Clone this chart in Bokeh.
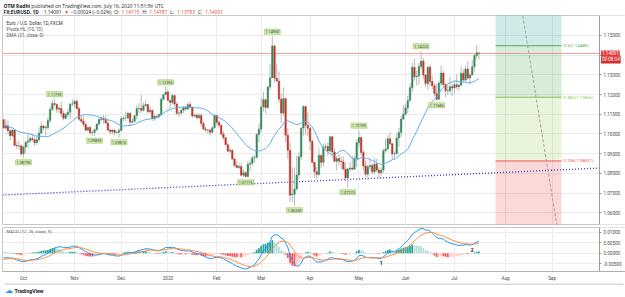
import numpy as np
import pandas as pd
from bokeh.plotting import figure
from bokeh.layouts import column
from bokeh.models import (ColumnDataSource, Range1d, FixedTicker, Label,
                          NumeralTickFormatter, CustomJSTickFormatter)
from bokeh.embed import file_html
from bokeh.resources import INLINE

# ---------------- data ----------------
# closes before the first visible bar (Jul 1 - Sep 17, 2019), used only to warm up DMA / MACD
warmup_close = [
    1.1286, 1.1285, 1.1283, 1.1286, 1.1225, 1.1214, 1.1208, 1.1252, 1.1253, 1.1271, 1.1259, 1.1210,
    1.1225, 1.1276, 1.1218, 1.1209, 1.1152, 1.1139, 1.1147, 1.1127, 1.1141, 1.1156, 1.1074,
    1.1087, 1.1108, 1.1203, 1.1199, 1.1200, 1.1180, 1.1200, 1.1215, 1.1172, 1.1138, 1.1107, 1.1090,
    1.1078, 1.1097, 1.1083, 1.1082, 1.1143, 1.1099, 1.1088, 1.1078, 1.1056, 1.0985,
    1.0970, 1.0974, 1.1033, 1.1029, 1.1027, 1.1043, 1.1043, 1.1011, 1.1061, 1.1073, 1.1001, 1.1073,
]

first_day = "2019-09-18"
closed_days = ["2019-12-25", "2020-01-01"]

open_ = [
    1.1073, 1.1030, 1.1041, 1.1017, 1.0991, 1.1020, 1.0942, 1.0939, 1.0940,
    1.0899, 1.0934, 1.0958, 1.0965, 1.0977, 1.0971, 1.0956, 1.0971, 1.1005, 1.1041, 1.1031, 1.1033,
    1.1068, 1.1124, 1.1155, 1.1150, 1.1126, 1.1131, 1.1104, 1.1080, 1.1099, 1.1110, 1.1152,
    1.1152, 1.1166, 1.1129, 1.1075, 1.1065, 1.1050, 1.1019, 1.1033, 1.1006, 1.1008, 1.1022,
    1.1051, 1.1073, 1.1078, 1.1074, 1.1056, 1.1020, 1.1012, 1.1020, 1.1008, 1.1009,
    1.1018, 1.1078, 1.1081, 1.1081, 1.1105, 1.1059, 1.1064, 1.1093, 1.1130, 1.1131, 1.1120,
    1.1144, 1.1150, 1.1113, 1.1121, 1.1078, 1.1091, 1.1088, 1.1099, 1.1177, 1.1200,
    1.1213, 1.1171, 1.1160, 1.1195, 1.1152, 1.1105, 1.1107, 1.1121, 1.1134, 1.1127, 1.1150,
    1.1136, 1.1091, 1.1096, 1.1082, 1.1094, 1.1053, 1.1025, 1.1020, 1.1020, 1.1009, 1.1032,
    1.1094, 1.1060, 1.1045, 1.1000, 1.0981, 1.0946, 1.0913, 1.0917, 1.0873, 1.0840,
    1.0830, 1.0835, 1.0791, 1.0803, 1.0784, 1.0847, 1.0852, 1.0880, 1.0881, 1.0997,
    1.1025, 1.1137, 1.1174, 1.1135, 1.1238, 1.1285, 1.1447, 1.1283, 1.1269, 1.1177, 1.1106,
    1.1180, 1.0994, 1.0917, 1.0690, 1.0694, 1.0721, 1.0792, 1.0884, 1.1030, 1.1139, 1.1044,
    1.1029, 1.0963, 1.0856, 1.0808, 1.0795, 1.0892, 1.0856, 1.0933, 1.0936, 1.0914, 1.0986,
    1.0908, 1.0862, 1.0875, 1.0862, 1.0859, 1.0822, 1.0777, 1.0822, 1.0827, 1.0821, 1.0875,
    1.0956, 1.0982, 1.0906, 1.0838, 1.0796, 1.0834, 1.0840, 1.0807, 1.0847, 1.0817, 1.0803,
    1.0817, 1.0915, 1.0924, 1.0976, 1.0950, 1.0899, 1.0900, 1.0980, 1.1008, 1.1076,
    1.1100, 1.1133, 1.1170, 1.1235, 1.1339, 1.1290, 1.1294, 1.1342, 1.1370, 1.1299, 1.1256,
    1.1339, 1.1266, 1.1245, 1.1206, 1.1177, 1.1258, 1.1309, 1.1251, 1.1219, 1.1220, 1.1240,
    1.1234, 1.1250, 1.1240, 1.1248, 1.1308, 1.1274, 1.1330, 1.1284, 1.1300, 1.1341, 1.1398, 1.14115,
]
high = [
    1.1075, 1.1075, 1.1068, 1.1025, 1.1025, 1.1023, 1.0961, 1.0966, 1.0945,
    1.0942, 1.0965, 1.0999, 1.0988, 1.0998, 1.0989, 1.0985, 1.1034, 1.1063, 1.1045, 1.1045,
    1.1086, 1.1140, 1.1172, 1.1179, 1.1155, 1.1144, 1.1163, 1.1118, 1.1108, 1.1128, 1.1159, 1.1174,
    1.1176, 1.1176, 1.1138, 1.1092, 1.1092, 1.1054, 1.1038, 1.1043, 1.1020, 1.1028, 1.1053,
    1.1080, 1.1090, 1.1097, 1.1095, 1.1072, 1.1025, 1.1023, 1.1022, 1.1016, 1.1028,
    1.1090, 1.1092, 1.1116, 1.1110, 1.1111, 1.1079, 1.1095, 1.1145, 1.1155, 1.1199, 1.1160,
    1.1174, 1.1152, 1.1137, 1.1123, 1.1095, 1.1093, 1.1104, 1.1188, 1.1201, 1.1239,
    1.1226, 1.1173, 1.1206, 1.1200, 1.1165, 1.1114, 1.1125, 1.1140, 1.1144, 1.1160, 1.1166,
    1.1141, 1.1100, 1.1103, 1.1106, 1.1104, 1.1066, 1.1038, 1.1026, 1.1024, 1.1040, 1.1096,
    1.1097, 1.1068, 1.1047, 1.1014, 1.0983, 1.0956, 1.0932, 1.0923, 1.0879, 1.0863,
    1.0850, 1.0852, 1.0820, 1.0812, 1.0863, 1.0867, 1.0891, 1.0892, 1.1005, 1.1053,
    1.1185, 1.1214, 1.1179, 1.1245, 1.1355, 1.1496, 1.1455, 1.1357, 1.1318, 1.1206, 1.1237,
    1.1180, 1.1029, 1.0957, 1.0831, 1.0830, 1.0890, 1.0905, 1.1034, 1.1147, 1.1145, 1.1110,
    1.1040, 1.0973, 1.0860, 1.0833, 1.0926, 1.0892, 1.0952, 1.0952, 1.0957, 1.0990, 1.0990,
    1.0927, 1.0890, 1.0899, 1.0889, 1.0886, 1.0855, 1.0828, 1.0859, 1.0891, 1.0889, 1.0972,
    1.1019, 1.0986, 1.0920, 1.0864, 1.0845, 1.0875, 1.0852, 1.0876, 1.0874, 1.0834, 1.0830,
    1.0926, 1.0976, 1.0994, 1.1009, 1.0957, 1.0912, 1.1005, 1.1031, 1.1091, 1.1147,
    1.1155, 1.1193, 1.1257, 1.1362, 1.1383, 1.1323, 1.1361, 1.1422, 1.1387, 1.1305, 1.1345,
    1.1353, 1.1296, 1.1257, 1.1257, 1.1272, 1.1349, 1.1323, 1.1259, 1.1248, 1.1290, 1.1254,
    1.1266, 1.1303, 1.1253, 1.1345, 1.1330, 1.1346, 1.1371, 1.1311, 1.1375, 1.1405, 1.1452, 1.14187,
]
low = [
    1.1027, 1.1022, 1.1002, 1.0966, 1.0984, 1.0939, 1.0923, 1.0920, 1.0886,
    1.0879, 1.0905, 1.0929, 1.0954, 1.0962, 1.0940, 1.0943, 1.0960, 1.0996, 1.1019, 1.0991,
    1.1022, 1.1056, 1.1118, 1.1141, 1.1107, 1.1105, 1.1085, 1.1072, 1.1073, 1.1084, 1.1076, 1.1141,
    1.1132, 1.1125, 1.1064, 1.1054, 1.1036, 1.1015, 1.1015, 1.0996, 1.0990, 1.0989, 1.1014,
    1.1040, 1.1063, 1.1052, 1.1050, 1.1014, 1.0998, 1.0997, 1.0993, 1.1000, 1.0981,
    1.1015, 1.1066, 1.1066, 1.1076, 1.1040, 1.1054, 1.1060, 1.1074, 1.1106, 1.1107, 1.1115,
    1.1138, 1.1106, 1.1104, 1.1066, 1.1066, 1.1077, 1.1078, 1.1099, 1.1167, 1.1200,
    1.1163, 1.1126, 1.1149, 1.1138, 1.1096, 1.1086, 1.1094, 1.1105, 1.1117, 1.1121, 1.1132,
    1.1082, 1.1086, 1.1078, 1.1077, 1.1036, 1.1019, 1.1010, 1.0999, 1.0992, 1.1002, 1.1025,
    1.1047, 1.1035, 1.0990, 1.0967, 1.0943, 1.0908, 1.0902, 1.0867, 1.0833, 1.0827,
    1.0821, 1.0786, 1.0783, 1.0778, 1.0780, 1.0812, 1.0838, 1.0854, 1.0876, 1.0955,
    1.1009, 1.1114, 1.1105, 1.1126, 1.1224, 1.1285, 1.1262, 1.1265, 1.1158, 1.1055, 1.1093,
    1.0956, 1.0874, 1.0654, 1.0657, 1.0636, 1.0714, 1.0770, 1.0867, 1.0992, 1.0995, 1.0990,
    1.0915, 1.0848, 1.0779, 1.0768, 1.0788, 1.0829, 1.0835, 1.0918, 1.0888, 1.0905, 1.0880,
    1.0855, 1.0814, 1.0840, 1.0820, 1.0815, 1.0757, 1.0727, 1.0810, 1.0815, 1.0818, 1.0834,
    1.0931, 1.0889, 1.0812, 1.0783, 1.0766, 1.0815, 1.0794, 1.0796, 1.0806, 1.0775, 1.0791,
    1.0803, 1.0904, 1.0920, 1.0944, 1.0871, 1.0870, 1.0895, 1.0935, 1.0985, 1.1071,
    1.1096, 1.1107, 1.1165, 1.1211, 1.1271, 1.1246, 1.1250, 1.1327, 1.1277, 1.1238, 1.1222,
    1.1242, 1.1225, 1.1192, 1.1168, 1.1171, 1.1242, 1.1237, 1.1187, 1.1198, 1.1204, 1.1192,
    1.1202, 1.1229, 1.1222, 1.1244, 1.1262, 1.1264, 1.1276, 1.1253, 1.1296, 1.1317, 1.1382, 1.13783,
]
close = [
    1.1030, 1.1041, 1.1017, 1.0991, 1.1020, 1.0942, 1.0939, 1.0940, 1.0899,
    1.0934, 1.0958, 1.0965, 1.0977, 1.0971, 1.0956, 1.0971, 1.1005, 1.1041, 1.1031, 1.1033,
    1.1068, 1.1124, 1.1155, 1.1150, 1.1126, 1.1131, 1.1104, 1.1080, 1.1099, 1.1110, 1.1152, 1.1152,
    1.1166, 1.1129, 1.1075, 1.1065, 1.1050, 1.1019, 1.1033, 1.1006, 1.1008, 1.1022, 1.1051,
    1.1073, 1.1078, 1.1074, 1.1056, 1.1020, 1.1012, 1.1020, 1.1008, 1.1009, 1.1018,
    1.1078, 1.1081, 1.1081, 1.1105, 1.1059, 1.1064, 1.1093, 1.1130, 1.1131, 1.1120, 1.1144,
    1.1150, 1.1113, 1.1121, 1.1078, 1.1091, 1.1088, 1.1099, 1.1177, 1.1200, 1.1213,
    1.1171, 1.1160, 1.1195, 1.1152, 1.1105, 1.1107, 1.1121, 1.1134, 1.1127, 1.1150, 1.1136,
    1.1091, 1.1096, 1.1082, 1.1094, 1.1053, 1.1025, 1.1020, 1.1020, 1.1009, 1.1032, 1.1094,
    1.1060, 1.1045, 1.1000, 1.0981, 1.0946, 1.0913, 1.0917, 1.0873, 1.0840, 1.0830,
    1.0835, 1.0791, 1.0803, 1.0784, 1.0847, 1.0852, 1.0880, 1.0881, 1.0997, 1.1025,
    1.1137, 1.1174, 1.1135, 1.1238, 1.1285, 1.1447, 1.1283, 1.1269, 1.1177, 1.1106, 1.1180,
    1.0994, 1.0917, 1.0690, 1.0694, 1.0721, 1.0792, 1.0884, 1.1030, 1.1139, 1.1044, 1.1029,
    1.0963, 1.0856, 1.0808, 1.0795, 1.0892, 1.0856, 1.0933, 1.0936, 1.0914, 1.0986, 1.0908,
    1.0862, 1.0875, 1.0862, 1.0859, 1.0822, 1.0777, 1.0822, 1.0827, 1.0821, 1.0875, 1.0956,
    1.0982, 1.0906, 1.0838, 1.0796, 1.0834, 1.0840, 1.0807, 1.0847, 1.0817, 1.0803, 1.0817,
    1.0915, 1.0924, 1.0976, 1.0950, 1.0899, 1.0900, 1.0980, 1.1008, 1.1076, 1.1100,
    1.1133, 1.1170, 1.1235, 1.1339, 1.1290, 1.1294, 1.1342, 1.1370, 1.1299, 1.1256, 1.1339,
    1.1266, 1.1245, 1.1206, 1.1177, 1.1258, 1.1309, 1.1251, 1.1219, 1.1220, 1.1240, 1.1234,
    1.1250, 1.1240, 1.1248, 1.1308, 1.1274, 1.1330, 1.1284, 1.1300, 1.1341, 1.1398, 1.1412, 1.14091,
]

month_keys = ["2019-10", "2019-11", "2019-12", "2020-01", "2020-02", "2020-03",
              "2020-04", "2020-05", "2020-06", "2020-07", "2020-08", "2020-09"]
month_labels = ["Oct", "Nov", "Dec", "2020", "Feb", "Mar", "Apr", "May", "Jun", "Jul", "Aug", "Sep"]
price_ticks = [1.06, 1.07, 1.08, 1.09, 1.10, 1.11, 1.12, 1.13, 1.14, 1.15]
macd_ticks = [-0.005, 0.0, 0.005, 0.01]

pivot_dates = ["2019-10-01", "2019-10-21", "2019-11-14", "2019-11-29", "2019-12-31", "2020-02-20",
               "2020-03-09", "2020-03-23", "2020-04-24", "2020-05-01", "2020-06-10", "2020-06-19"]
pivot_prices = [1.08790, 1.11795, 1.09890, 1.09815, 1.12395, 1.07775,
                1.14960, 1.06359, 1.07275, 1.10195, 1.14225, 1.11685]
pivot_is_high = [False, True, False, False, True, False, True, False, False, True, True, False]

fib_start, fib_end = 1.034025, 1.255575
fib_levels = [0.0, 0.236, 0.382, 0.5, 0.618]
fib_band_colors = ["#ef5350", "#9ccc65", "#4caf50", "#26a69a"]
fib_line_colors = ["#ef5350", "#8bc34a", "#4caf50"]
fib_x = [221.5, 251.2]

gray_trend_x = [233.03, 250.36]
gray_trend_y = [1.165, 1.045]
blue_trend_x = [-0.45, 268.3]
blue_trend_y = [1.0690, 1.0827]

last_price = 1.14091
countdown = "09:08:04"
wave_marks = ["1", "2"]
wave_dates = ["2020-05-15", "2020-07-13"]
wave_values = [-0.0046, 0.0016]

INK = "#131722"
RED = "#e53935"
header_line1 = [("OTM Radhi", INK, True),
                ("published on TradingView.com, July 16, 2020 11:51:56 UTC", INK, False)]
header_line2 = [("FX:EURUSD, 1D", INK, True), ("1.14091", INK, False), ("▼", RED, False),
                ("−0.00024 (−0.02%)", INK, False), ("O:", INK, False), ("1.14115", RED, False),
                ("H:", INK, False), ("1.14187", RED, False), ("L:", INK, False),
                ("1.13783", RED, False), ("C:", INK, False), ("1.14091", RED, False)]

# ---------------- derived ----------------
days = pd.bdate_range(first_day, "2020-09-30")
days = days[~days.isin(pd.to_datetime(closed_days))]
ym = np.array(days.strftime("%Y-%m"))
day_pos = {d: i for i, d in enumerate(days.strftime("%Y-%m-%d"))}
month_idx = [int(np.argmax(ym == k)) for k in month_keys]

n = len(close)
xs = np.arange(n)
k0 = len(warmup_close)
s = pd.Series(warmup_close + close)
dma = s.rolling(21).mean().values[k0:]
ema12 = s.ewm(span=12, adjust=False).mean()
ema26 = s.ewm(span=26, adjust=False).mean()
macd_all = ema12 - ema26
sig_all = macd_all.ewm(span=9, adjust=False).mean()
hist_all = (macd_all - sig_all).values
macd = macd_all.values[k0:]
sig = sig_all.values[k0:]
hist = hist_all[k0:]
prev = hist_all[k0 - 1:-1]
hcol = []
for h, pv in zip(hist, prev):
    if h >= 0:
        hcol.append("#26a69a" if h > pv else "#b2dfdb")
    else:
        hcol.append("#ff5252" if h < pv else "#ffcdd2")

up = [c >= o for o, c in zip(open_, close)]
src = ColumnDataSource(dict(
    x=xs, open=open_, high=high, low=low, close=close,
    top=[max(o, c) for o, c in zip(open_, close)],
    bottom=[min(o, c) for o, c in zip(open_, close)],
    color=["#358a5b" if u else "#c4362b" for u in up],
))

# x layout: frame spans canvas x 2..625, price scale line at bar-position AXIS_X
X0, AXIS_X, X1 = -0.45, 268.3, 280.0
FONT = "Roboto"
HFONT = "Open Sans"
GRID = "#ebebeb"
W = 625

CHAR_EM = {'.': 0.266, ':': 0.266, ' ': 0.26, ',': 0.25, '(': 0.3, ')': 0.3, '%': 0.83,
           '−': 0.572, '▼': 0.75, 'i': 0.25, 'l': 0.25, 'j': 0.25, 't': 0.35, 'f': 0.33,
           'r': 0.4, 'm': 0.85, 'w': 0.75, 'M': 0.9, 'I': 0.3}


def em_width(text, bold):
    w = 0.0
    for ch in text:
        if ch in CHAR_EM:
            w += CHAR_EM[ch]
        elif ch.isdigit():
            w += 0.572
        elif ch.isupper():
            w += 0.66
        else:
            w += 0.55
    return w * (1.07 if bold else 1.0)


def strip_fig(height):
    f = figure(width=W, height=height, x_range=Range1d(0, W), y_range=Range1d(0, height),
               x_axis_location=None, y_axis_location=None, toolbar_location=None,
               output_backend="svg", min_border=0)
    f.outline_line_color = None
    f.grid.visible = False
    f.background_fill_color = "white"
    f.border_fill_color = "white"
    return f


def put(fig, h, cx, cy, s, size, color, bold=False, font=FONT):
    fig.add_layout(Label(x=cx, y=h - cy, text=s, text_font=font, text_font_size=f"{size}px",
                         text_color=color, text_font_style="bold" if bold else "normal",
                         text_baseline="middle", text_align="left"))


def put_line(fig, h, cy, pieces, size, gap):
    cx = 1.0
    for text, colr, bold in pieces:
        put(fig, h, cx, cy, text, size, colr, bold, HFONT)
        cx += (em_width(text, bold) + gap) * size


def style_price_axis(ax):
    ax.fixed_location = AXIS_X
    ax.major_label_text_font = FONT
    ax.major_label_text_font_size = "4.6px"
    ax.major_label_text_color = "#4a4a4a"
    ax.major_tick_out = 2
    ax.major_tick_in = 0
    ax.minor_tick_out = 0
    ax.minor_tick_in = 0
    ax.major_label_standoff = 2
    ax.axis_line_color = "#9a9a9a"
    ax.major_tick_line_color = "#9a9a9a"


# ---------------- header strip ----------------
HH = 15
hdr = strip_fig(HH)
put_line(hdr, HH, 5, header_line1, 4.9, 0.3)
put_line(hdr, HH, 11.3, header_line2, 4.8, 0.6)

# ---------------- main pane ----------------
PH = 211
Y0, Y1 = 1.05406, 1.16015
p = figure(width=W, height=PH, x_range=Range1d(X0, X1), y_range=Range1d(Y0, Y1),
           x_axis_location=None, y_axis_location="right", toolbar_location=None,
           output_backend="svg", min_border_left=2, min_border_right=0,
           min_border_top=0, min_border_bottom=2)
p.background_fill_color = "white"
p.border_fill_color = "white"
p.outline_line_color = "#c8c8c8"
p.yaxis.ticker = FixedTicker(ticks=price_ticks)
p.yaxis.formatter = NumeralTickFormatter(format="0.00000")
style_price_axis(p.yaxis[0])
p.ygrid.ticker = FixedTicker(ticks=price_ticks)
p.xgrid.ticker = FixedTicker(ticks=month_idx)
p.ygrid.grid_line_color = GRID
p.xgrid.grid_line_color = GRID

# fibonacci retracement
fib_prices = [fib_start + l * (fib_end - fib_start) for l in fib_levels]
p.quad(left=fib_x[0], right=fib_x[1], bottom=fib_prices[:-1], top=fib_prices[1:],
       fill_color=fib_band_colors, fill_alpha=0.22, line_color=None)
lvl_prices = fib_prices[1:4]
p.segment(x0=fib_x[0], x1=fib_x[1], y0=lvl_prices, y1=lvl_prices,
          line_color=fib_line_colors, line_width=1)
for lvl, pr, colr in zip(fib_levels[1:4], lvl_prices, fib_line_colors):
    p.add_layout(Label(x=fib_x[1], y=pr, x_offset=2, text=f"{lvl}({pr:.5f})", text_font=FONT,
                       text_font_size="4.4px", text_color=colr, text_baseline="middle",
                       text_align="left"))

# trend lines
p.line(blue_trend_x, blue_trend_y, line_color="#3434d8", line_width=1.3, line_dash="1 2")
p.line(gray_trend_x, gray_trend_y, line_color="#a0a0a0", line_width=1, line_dash="3 2")

# current price line
p.segment(x0=X0, x1=AXIS_X, y0=last_price, y1=last_price, line_color="#f08a8a",
          line_width=1, line_alpha=0.85)

# candles
p.segment(x0="x", y0="high", x1="x", y1="low", source=src, line_color="#b9b9b9", line_width=1)
p.vbar(x="x", width=0.72, top="top", bottom="bottom", fill_color="color",
       line_color="color", line_width=0.4, source=src)

# DMA
p.line(xs, dma, line_color="#5aaef0", line_width=1)

# price-scale background (right of the scale line)
p.quad(left=AXIS_X, right=X1 + 5, bottom=Y0 - 1, top=Y1 + 1, fill_color="white", line_color=None)

# pivot labels
for d, pr, hi in zip(pivot_dates, pivot_prices, pivot_is_high):
    p.add_layout(Label(x=day_pos[d], y=pr, y_offset=2 if hi else -2, text=f"{pr:.5f}",
                       text_font=FONT, text_font_size="3.8px", text_color="#2e3b1f",
                       text_align="center", text_baseline="bottom" if hi else "top",
                       background_fill_color="#d5ebb5", border_line_color="#94c45c",
                       border_line_width=0.6, padding=1))

# price tag + countdown on the price scale
p.add_layout(Label(x=AXIS_X, y=last_price, x_offset=1.5, text=f"{last_price:.5f}",
                   text_font=FONT, text_font_size="4.6px", text_color="white",
                   text_baseline="middle", text_align="left",
                   background_fill_color="#e53935", padding=1))
p.add_layout(Label(x=AXIS_X, y=last_price, x_offset=1.5, y_offset=-6.5, text=countdown,
                   text_font=FONT, text_font_size="4.6px", text_color="white",
                   text_baseline="middle", text_align="left",
                   background_fill_color="#d32f2f", padding=1))

# pane legend (frame top is canvas y=15, frame left x=2)
for txt, cy, colr in [("Euro / U.S. Dollar, 1D, FXCM", 22.6, "#333333"),
                      ("Pivots HL (10, 10)", 28.6, "#555555"),
                      ("DMA (21, close, 0)", 34.6, "#555555")]:
    p.add_layout(Label(x=4, y=209 - (cy - 15), x_units="screen", y_units="screen", text=txt,
                       text_font=FONT, text_font_size="4.6px", text_color=colr,
                       text_baseline="middle", text_align="left"))

# ---------------- MACD pane ----------------
MH = 57
msrc = ColumnDataSource(dict(x=xs, macd=macd, sig=sig, hist=hist, hcol=hcol))
m = figure(width=W, height=MH, x_range=p.x_range, y_range=Range1d(-0.00882, 0.01241),
           y_axis_location="right", toolbar_location=None, output_backend="svg",
           min_border_left=2, min_border_right=0, min_border_top=1, min_border_bottom=11)
m.background_fill_color = "white"
m.border_fill_color = "white"
m.outline_line_color = "#c8c8c8"
m.yaxis.ticker = FixedTicker(ticks=macd_ticks)
m.yaxis.formatter = NumeralTickFormatter(format="0.00000")
style_price_axis(m.yaxis[0])
m.xaxis.ticker = FixedTicker(ticks=month_idx)
m.xaxis.formatter = CustomJSTickFormatter(
    args=dict(month_pos=month_idx, month_names=month_labels),
    code="const i = month_pos.indexOf(tick); return i >= 0 ? month_names[i] : '';")
m.xaxis.major_label_text_font = FONT
m.xaxis.major_label_text_font_size = "4.6px"
m.xaxis.major_label_text_color = "#4a4a4a"
m.xaxis.major_tick_out = 0
m.xaxis.major_tick_in = 0
m.xaxis.minor_tick_out = 0
m.xaxis.minor_tick_in = 0
m.xaxis.major_label_standoff = 4
m.xaxis.axis_line_color = "#b0b0b0"
m.xgrid.grid_line_color = GRID
m.ygrid.grid_line_color = GRID
m.ygrid.ticker = FixedTicker(ticks=macd_ticks)

m.vbar(x="x", width=0.8, top="hist", bottom=0, fill_color="hcol", line_color=None, source=msrc)
m.line("x", "macd", source=msrc, line_color="#2196f3", line_width=1)
m.line("x", "sig", source=msrc, line_color="#ff8a3d", line_width=1)
m.quad(left=AXIS_X, right=X1 + 5, bottom=-1, top=1, fill_color="white", line_color=None)

for t, d, v in zip(wave_marks, wave_dates, wave_values):
    m.add_layout(Label(x=day_pos[d], y=v, text=t, text_font=FONT, text_font_size="5px",
                       text_font_style="bold", text_color=INK,
                       text_align="center", text_baseline="middle"))

m.add_layout(Label(x=4, y=45 - (231.7 - 227), x_units="screen", y_units="screen",
                   text="MACD (12, 26, close, 9)", text_font=FONT, text_font_size="4.4px",
                   text_color="#555555", text_baseline="middle", text_align="left"))

# ---------------- footer strip ----------------
FH = 14
ftr = strip_fig(FH)
ftr.segment(x0=2, x1=623, y0=FH - 0.5, y1=FH - 0.5, line_color="#b0b0b0", line_width=1)
put(ftr, FH, 3, 7, "☁", 8, "#2196f3")
put(ftr, FH, 12, 7, "TradingView", 5.2, INK, bold=True)

layout = column(hdr, p, m, ftr, spacing=0)
open("out.html", "w").write(file_html(layout, INLINE, title="EURUSD"))
